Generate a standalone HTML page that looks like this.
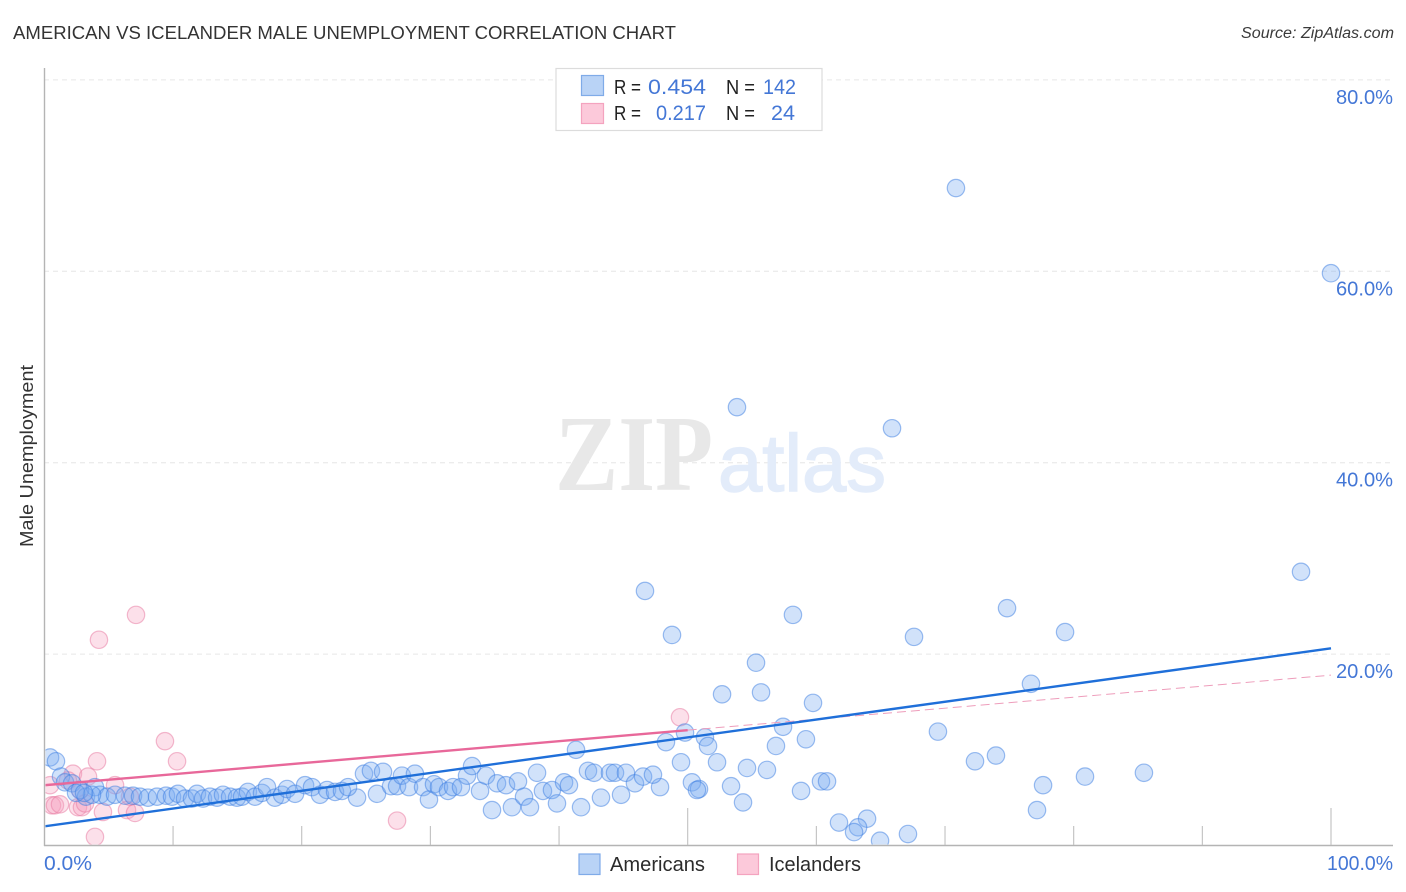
<!DOCTYPE html>
<html lang="en">
<head>
<meta charset="utf-8">
<title>American vs Icelander Male Unemployment Correlation Chart</title>
<style>
html,body{margin:0;padding:0;background:#fff;width:1406px;height:892px;overflow:hidden}
svg{display:block;font-family:"Liberation Sans",sans-serif}
</style>
</head>
<body>
<svg id="chart" width="1406" height="892" viewBox="0 0 1406 892" xmlns="http://www.w3.org/2000/svg">
  <defs>
    <clipPath id="plot-clip"><rect x="45.5" y="60" width="1348" height="784.5"/></clipPath>
  </defs>
  <rect x="0" y="0" width="1406" height="892" fill="#ffffff"/>
  <text x="13" y="39" font-size="18" fill="#333333" textLength="663" lengthAdjust="spacingAndGlyphs">AMERICAN VS ICELANDER MALE UNEMPLOYMENT CORRELATION CHART</text>
  <text x="1241" y="38" font-size="15.5" font-style="italic" fill="#3a3a3a" textLength="153" lengthAdjust="spacingAndGlyphs">Source: ZipAtlas.com</text>
  <g id="grid"></g>
  <g>
    <text x="555" y="490" font-family="'Liberation Serif',serif" font-size="108" font-weight="bold" fill="#e8e8e8" textLength="158" lengthAdjust="spacingAndGlyphs">ZIP</text>
    <text x="718" y="491" font-size="81" fill="#e3ecfa" stroke="#e3ecfa" stroke-width="1.5" textLength="168" lengthAdjust="spacingAndGlyphs">atlas</text>
  </g>
  <g id="points-icelanders" clip-path="url(#plot-clip)"></g>
  <g id="points-americans" clip-path="url(#plot-clip)"></g>
  <g id="trends" clip-path="url(#plot-clip)"></g>
  <line x1="44.5" y1="68" x2="44.5" y2="846" stroke="#b4b4b4" stroke-width="1.4"/>
  <line x1="44" y1="845.5" x2="1393" y2="845.5" stroke="#b4b4b4" stroke-width="1.4"/>
  <g id="x-ticks"></g>
  <g id="y-labels"></g>
  <text x="44" y="870" font-size="20" fill="#4477d6" textLength="48" lengthAdjust="spacingAndGlyphs">0.0%</text>
  <text x="1393" y="870" font-size="20" fill="#4477d6" text-anchor="end" textLength="66" lengthAdjust="spacingAndGlyphs">100.0%</text>
  <text transform="translate(33,547) rotate(-90)" font-size="18" fill="#333333" textLength="182" lengthAdjust="spacingAndGlyphs">Male Unemployment</text>

  <g>
    <rect x="556" y="68.5" width="266" height="62" fill="#ffffff" stroke="#dcdcdc" stroke-width="1.2"/>
    <rect x="581.5" y="75.5" width="22" height="20" fill="#b9d3f6" stroke="#7fabe8" stroke-width="1.2"/>
    <rect x="581.5" y="103.5" width="22" height="20" fill="#fcc9da" stroke="#f4a3bf" stroke-width="1.2"/>
    <text x="614" y="94" font-size="20" fill="#222" textLength="27" lengthAdjust="spacingAndGlyphs">R =</text>
    <text x="648" y="94" font-size="21.5" fill="#4477d6" textLength="58" lengthAdjust="spacingAndGlyphs">0.454</text>
    <text x="726" y="94" font-size="20" fill="#222" textLength="29" lengthAdjust="spacingAndGlyphs">N =</text>
    <text x="763" y="94" font-size="21.5" fill="#4477d6" textLength="33" lengthAdjust="spacingAndGlyphs">142</text>
    <text x="614" y="120" font-size="20" fill="#222" textLength="27" lengthAdjust="spacingAndGlyphs">R =</text>
    <text x="656" y="120" font-size="21.5" fill="#4477d6" textLength="50" lengthAdjust="spacingAndGlyphs">0.217</text>
    <text x="726" y="120" font-size="20" fill="#222" textLength="29" lengthAdjust="spacingAndGlyphs">N =</text>
    <text x="771" y="120" font-size="21.5" fill="#4477d6" textLength="24" lengthAdjust="spacingAndGlyphs">24</text>
  </g>

  <g>
    <rect x="579" y="854" width="21" height="20.5" fill="#b9d3f6" stroke="#7fabe8" stroke-width="1.2"/>
    <text x="610" y="871" font-size="20" fill="#2b2b2b" textLength="95" lengthAdjust="spacingAndGlyphs">Americans</text>
    <rect x="737.5" y="854" width="21" height="20.5" fill="#fcc9da" stroke="#f4a3bf" stroke-width="1.2"/>
    <text x="769" y="871" font-size="20" fill="#2b2b2b" textLength="92" lengthAdjust="spacingAndGlyphs">Icelanders</text>
  </g>
</svg>
<script>
const americanX = [
70.85,100,53.83,65.88,97.67,46.68,58.18,74.82,48.78,67.59,
79.33,55.31,52.67,55.70,76.68,59.74,57.41,49.79,51.34,69.45,
48.31,51.58,56.86,59.19,41.32,72.33,73.96,49.48,52.28,54.61,
56.16,85.46,80.88,77.62,60.36,60.83,50.33,50.88,53.37,47.85,
58.81,54.30,77.15,61.76,63.94,63.24,62.93,64.95,67.12,
24.84,25.38,26.32,24.30,25.85,26.94,27.41,27.79,28.34,28.80,
29.43,29.89,30.28,30.67,31.37,31.76,32.38,32.85,33.24,33.86,
34.32,34.79,35.18,35.88,36.34,36.81,37.28,37.74,38.29,38.75,
39.45,39.84,40.39,40.77,41.71,42.25,42.72,43.26,43.96,44.35,
44.82,45.20,45.90,46.53,47.30,50.72,
0.44,0.90,1.29,1.60,2.15,2.77,3.23,3.93,4.32,4.87,
5.49,6.26,6.89,7.43,8.05,8.75,9.45,9.92,10.38,10.93,
11.47,11.86,12.33,12.87,13.42,13.88,14.43,14.97,15.36,15.82,
16.37,16.91,17.30,17.92,18.47,18.86,19.48,20.26,20.80,21.42,
21.97,22.59,23.13,23.60,3.70,2.46,3.08
];
const americanY = [
68.7,59.8,45.8,43.6,28.6,26.6,24.1,24.8,22.0,21.8,
22.3,19.1,15.8,16.0,16.9,14.9,12.4,11.8,11.3,11.9,
10.8,10.4,10.4,11.1,10.0,8.8,9.4,8.7,8.7,8.1,
7.9,7.6,7.2,6.3,6.7,6.7,6.6,5.9,6.2,6.1,
5.7,4.5,3.7,2.4,2.8,1.9,1.4,0.5,1.2,
7.5,7.8,7.7,5.0,5.4,6.2,6.2,7.3,6.1,7.5,
6.1,4.8,6.4,6.1,5.7,6.1,6.1,7.3,8.3,5.7,
7.3,3.7,6.5,6.3,4.0,6.7,5.1,4.0,7.6,5.7,
5.8,4.4,6.6,6.3,4.0,7.8,7.6,5.0,7.6,7.6,
5.3,7.6,6.5,7.2,7.4,5.8,
9.2,8.8,7.2,6.6,6.5,5.8,5.1,6.1,5.3,5.1,
5.3,5.2,5.2,5.1,5.0,5.1,5.2,5.1,5.4,4.9,
4.9,5.4,4.9,5.1,5.0,5.3,5.1,5.0,5.1,5.6,
5.1,5.5,6.1,5.0,5.3,5.9,5.4,6.3,6.1,5.3,
5.8,5.6,5.7,6.1,5.3,5.5,5.5
];
const icelanderX = [
9.37,10.31,4.09,7.12,4.24,49.40,27.41,3.93,0.44,2.22,
3.39,5.49,0.59,0.82,1.21,2.61,2.92,4.55,6.42,7.04,
1.83,3.16,2.77,6.65
];
const icelanderY = [
10.9,8.8,8.8,24.1,21.5,13.4,2.6,0.9,6.3,7.5,
7.2,6.3,4.2,4.2,4.3,4.0,4.0,3.5,3.7,3.4,
6.8,4.4,5.8,5.1
];
const americanTrendX = [0, 100];
const americanTrendY = [2.0, 20.6];
const icelanderSolidX = [0, 50];
const icelanderSolidY = [6.3, 12.05];
const icelanderDashX = [50, 100];
const icelanderDashY = [12.05, 17.8];
const xTickValues = [10, 20, 30, 40, 50, 60, 70, 80, 90, 100];
const majorTickValues = [50, 100];
const yGridValues = [20, 40, 60, 80];
const yTickLabels = ["20.0%", "40.0%", "60.0%", "80.0%"];

const NS = "http://www.w3.org/2000/svg";
function xScale(v) { return 44.4 + v * 12.866; }
function yScale(v) { return 845.5 - v * 9.57; }
function make(tag, attrs) {
  const el = document.createElementNS(NS, tag);
  for (const k in attrs) el.setAttribute(k, attrs[k]);
  return el;
}

const gridGroup = document.getElementById("grid");
const yLabelGroup = document.getElementById("y-labels");
yGridValues.forEach(function (v, i) {
  const g = make("line", { x1: 44, x2: 1393, y1: yScale(v), y2: yScale(v), stroke: "#e6e6e6", "stroke-width": 1, "stroke-dasharray": "5 4" });
  
  
  gridGroup.appendChild(g);
  const t = make("text", { x: 1393, y: yScale(v) + 24, "font-size": 20, fill: "#4477d6", "text-anchor": "end", textLength: 57, lengthAdjust: "spacingAndGlyphs" });
  
  
  t.textContent = yTickLabels[i];
  yLabelGroup.appendChild(t);
});

const tickGroup = document.getElementById("x-ticks");
xTickValues.forEach(function (v) {
  const top = majorTickValues.indexOf(v) >= 0 ? 808 : 826;
  const t = make("line", { x1: xScale(v), x2: xScale(v), y1: top, y2: 845, stroke: "#c0c0c0", "stroke-width": 1.1 });
  
  
  tickGroup.appendChild(t);
});

const icelanderGroup = document.getElementById("points-icelanders");
icelanderX.forEach(function (v, i) {
  const c = make("circle", { cx: xScale(v), cy: yScale(icelanderY[i]), r: 8.7, fill: "rgba(247,160,190,0.32)", stroke: "rgba(232,120,160,0.5)", "stroke-width": 1.2 });
  
  
  icelanderGroup.appendChild(c);
});

const americanGroup = document.getElementById("points-americans");
americanX.forEach(function (v, i) {
  const c = make("circle", { cx: xScale(v), cy: yScale(americanY[i]), r: 8.7, fill: "rgba(120,170,240,0.34)", stroke: "rgba(60,125,225,0.5)", "stroke-width": 1.2 });
  
  
  americanGroup.appendChild(c);
});

const trendGroup = document.getElementById("trends");
const dashLine = make("line", { x1: xScale(icelanderDashX[0]), y1: yScale(icelanderDashY[0]), x2: xScale(icelanderDashX[1]), y2: yScale(icelanderDashY[1]), stroke: "#ee9dbb", "stroke-width": 1, "stroke-dasharray": "9 5" });


trendGroup.appendChild(dashLine);
const pinkLine = make("line", { x1: xScale(icelanderSolidX[0]), y1: yScale(icelanderSolidY[0]), x2: xScale(icelanderSolidX[1]), y2: yScale(icelanderSolidY[1]), stroke: "#e8689a", "stroke-width": 2.4 });


trendGroup.appendChild(pinkLine);
const blueLine = make("line", { x1: xScale(americanTrendX[0]), y1: yScale(americanTrendY[0]), x2: xScale(americanTrendX[1]), y2: yScale(americanTrendY[1]), stroke: "#1f6fd9", "stroke-width": 2.4 });


trendGroup.appendChild(blueLine);
</script>
</body>
</html>
